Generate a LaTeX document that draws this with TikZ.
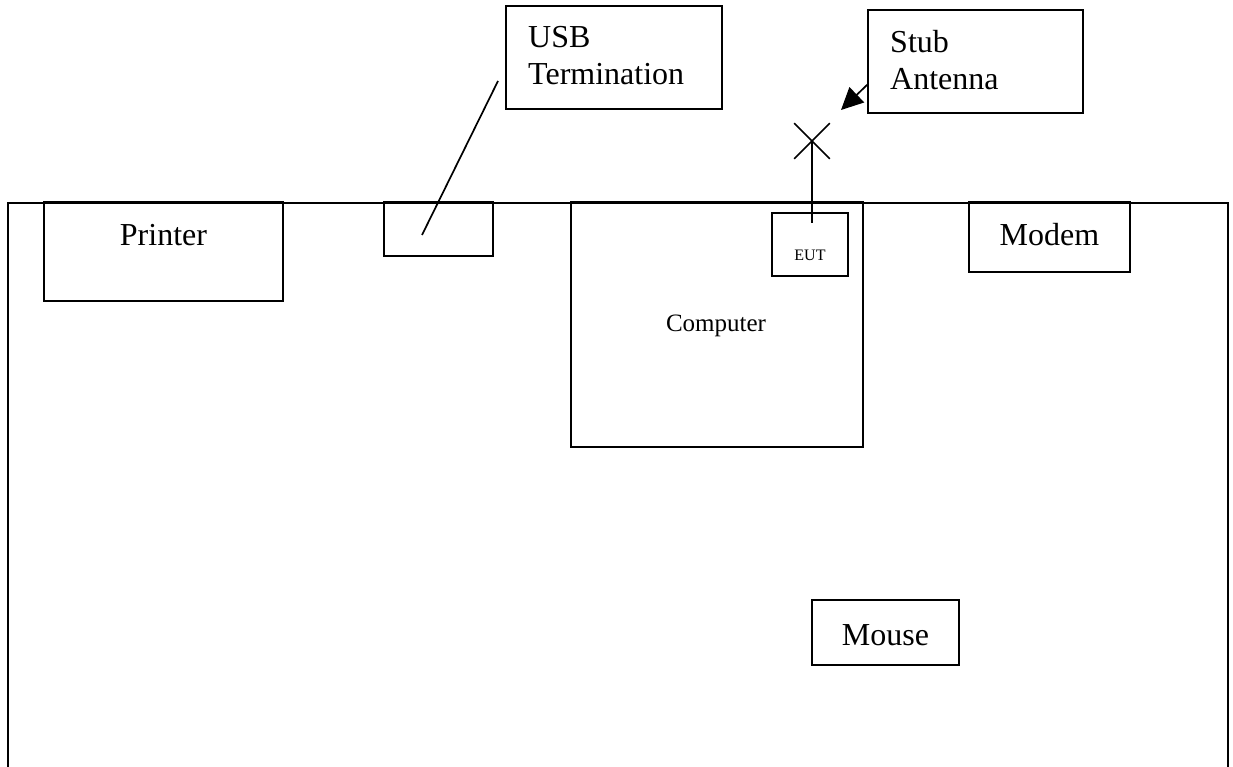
\documentclass[tikz,border=0pt]{standalone}
\usepackage{fontspec}
\setmainfont{Liberation Serif}
\usetikzlibrary{arrows.meta,shapes.misc}
\tikzset{
  box/.style={draw, line width=1.7pt, inner sep=0pt, rectangle},
  bigtxt/.style={inner sep=0pt, anchor=base, font=\fontsize{32}{37}\selectfont},
  medtxt/.style={inner sep=0pt, anchor=base, font=\fontsize{25}{29}\selectfont},
  smalltxt/.style={inner sep=0pt, anchor=base, font=\fontsize{16}{19}\selectfont},
  conn/.style={line width=1.7pt},
}
\begin{document}
\begin{tikzpicture}[x=1pt,y=-1pt]
\useasboundingbox (0,0) rectangle (1233,767);
% outer room (open at bottom)
\coordinate (roomBL) at (8,770);
\coordinate (roomTL) at (8,203);
\coordinate (roomTR) at (1228,203);
\coordinate (roomBR) at (1228,770);
\draw[line width=2.2pt] (roomBL) -- (roomTL) -- (roomTR) -- (roomBR);
% boxes
\node[box, minimum width=239pt, minimum height=99pt] (printer) at (163.5,251.5) {};
\node[bigtxt] (printerT) at (163.5,246) {Printer};
\node[box, minimum width=109pt, minimum height=54pt] (usb) at (438.5,229) {};
\node[box, minimum width=292pt, minimum height=245pt] (computer) at (717,324.5) {};
\node[medtxt] (computerT) at (716,331) {Computer};
\node[box, minimum width=76pt, minimum height=63pt] (eut) at (810,244.5) {};
\node[smalltxt] (eutT) at (810,260) {EUT};
\node[box, minimum width=161pt, minimum height=70pt] (modem) at (1049.5,237) {};
\node[bigtxt] (modemT) at (1049.5,246) {Modem};
\node[box, minimum width=147pt, minimum height=65pt] (mouse) at (885.5,632.5) {};
\node[bigtxt] (mouseT) at (885.5,645) {Mouse};
% label boxes
\node[box, minimum width=216pt, minimum height=103pt] (usblab) at (614,57.5) {};
\node[bigtxt, anchor=base west] (usbT1) at (528,48) {USB};
\node[bigtxt, anchor=base west] (usbT2) at (528,85) {Termination};
\node[box, minimum width=215pt, minimum height=103pt] (stublab) at (975.5,61.5) {};
\node[bigtxt, anchor=base west] (stubT1) at (890,53) {Stub};
\node[bigtxt, anchor=base west] (stubT2) at (890,90) {Antenna};
% antenna cross
\node[cross out, draw, line width=1.7pt, minimum size=34pt, inner sep=0pt] (ant) at (812,141) {};
\coordinate (eutFeed) at (812,223);
\draw[conn] (eutFeed) -- (ant.center);
% USB leader line
\coordinate (usbA) at (498,81);
\coordinate (usbB) at (422,235);
\draw[conn] (usbA) -- (usbB);
% stub arrow
\coordinate (stubA) at (868,84);
\coordinate (stubB) at (841,110);
\draw[conn, -{Triangle[length=22pt,width=21pt]}] (stubA) -- (stubB);
\end{tikzpicture}
\end{document}
